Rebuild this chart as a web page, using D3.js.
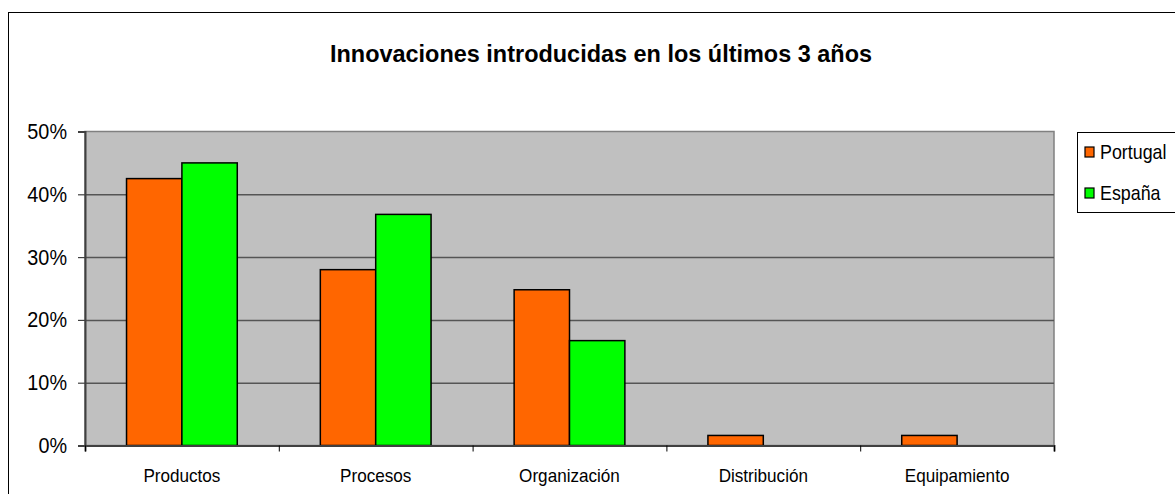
<!DOCTYPE html>
<meta charset="utf-8">
<style>
body { margin: 0; background: #fff; }
text { font-family: "Liberation Sans", Arial, sans-serif; fill: #000; }
.grid line { stroke: #555; stroke-width: 1.5px; }
.grid path { display: none; }
</style>
<body>
<script src="https://d3js.org/d3.v7.min.js"></script>
<script>

// data
var categories = ["Productos", "Procesos", "Organización", "Distribución", "Equipamiento"];
var series = ["Portugal", "España"];
var portugal = [0.425, 0.280, 0.248, 0.016, 0.016];
var espana = [0.450, 0.368, 0.167, 0, 0];
var yTicks = [0, 0.1, 0.2, 0.3, 0.4, 0.5];
var colors = ["#FF6600", "#00FF00"];
var title = "Innovaciones introducidas en los últimos 3 años";

var W = 1175, H = 494;
var plot = {left: 85, top: 131.5, right: 1054, bottom: 445.5};

var svg = d3.select("body").append("svg")
    .attr("width", W)
    .attr("height", H);

// squeeze text a bit, the original font is narrower
function condense(sel, k) {
  sel.each(function() {
    var len = this.getComputedTextLength();
    d3.select(this).attr("textLength", len * k).attr("lengthAdjust", "spacingAndGlyphs");
  });
}

// outer chart border
svg.append("rect")
    .attr("x", 8.5).attr("y", 12.5)
    .attr("width", 1200).attr("height", 520)
    .attr("fill", "#fff")
    .attr("stroke", "#000")
    .attr("stroke-width", 1);

// scales
var x0 = d3.scaleBand().domain(categories).range([plot.left, plot.right]);
var x1 = d3.scaleBand().domain(series).range([0, x0.bandwidth()]).paddingOuter(0.75);
var xEdge = d3.scaleLinear().domain([0, categories.length]).range([plot.left, plot.right]);
var y = d3.scaleLinear().domain([0, 0.5]).range([plot.bottom, plot.top]);

// plot area
svg.append("rect")
    .attr("x", plot.left).attr("y", plot.top)
    .attr("width", plot.right - plot.left)
    .attr("height", plot.bottom - plot.top)
    .attr("fill", "#C0C0C0")
    .attr("stroke", "#808080")
    .attr("stroke-width", 1.5);

// gridlines
svg.append("g")
    .attr("class", "grid")
    .attr("transform", "translate(" + plot.left + ",0)")
    .call(d3.axisLeft(y).tickValues([0.1, 0.2, 0.3, 0.4])
        .tickSize(-(plot.right - plot.left)).tickFormat(""));

// bars
var rows = categories.map(function(c, i) {
  return {cat: c, vals: [portugal[i], espana[i]]};
});

var groups = svg.selectAll(".cat")
    .data(rows)
  .enter().append("g")
    .attr("transform", function(d) { return "translate(" + x0(d.cat) + ",0)"; });

groups.selectAll("rect")
    .data(function(d) {
      return d.vals.map(function(v, j) { return {s: series[j], v: v, j: j}; })
        .filter(function(e) { return e.v > 0; });
    })
  .enter().append("rect")
    .attr("x", function(d) { return x1(d.s); })
    .attr("y", function(d) { return y(d.v); })
    .attr("width", x1.bandwidth())
    .attr("height", function(d) { return y(0) - y(d.v); })
    .attr("fill", function(d) { return colors[d.j]; })
    .attr("stroke", "#000")
    .attr("stroke-width", 1.5);

// y axis
var yAxis = svg.append("g")
    .attr("transform", "translate(" + plot.left + ",0)")
    .call(d3.axisLeft(y).tickValues(yTicks).tickSize(7).tickPadding(11)
        .tickFormat(d3.format(".0%")));
yAxis.select(".domain").attr("stroke", "#404040").attr("stroke-width", 2);
yAxis.selectAll(".tick line").attr("stroke", "#404040").attr("stroke-width", 1.2);
yAxis.selectAll("text")
    .attr("font-size", "22px")
    .attr("font-family", "Liberation Sans, Arial, sans-serif")
    .attr("fill", "#000")
    .call(condense, 0.9);

// x axis: tick marks at band edges, labels centred under bands
var xTicks = svg.append("g")
    .attr("transform", "translate(0," + plot.bottom + ")")
    .call(d3.axisBottom(xEdge).ticks(categories.length).tickSize(6).tickFormat(""));
xTicks.select(".domain").attr("stroke", "#404040").attr("stroke-width", 2);
xTicks.selectAll(".tick line").attr("stroke", "#000");

var xLabels = svg.append("g")
    .attr("transform", "translate(0," + plot.bottom + ")")
    .call(d3.axisBottom(x0).tickSize(0).tickPadding(23));
xLabels.select(".domain").remove();
xLabels.selectAll("text")
    .attr("font-size", "19px")
    .attr("font-family", "Liberation Sans, Arial, sans-serif")
    .attr("fill", "#000")
    .call(condense, 0.9);

// title
svg.append("text")
    .attr("x", 601)
    .attr("y", 62)
    .attr("text-anchor", "middle")
    .style("font-size", "24px")
    .style("font-weight", "bold")
    .attr("textLength", 542)
    .attr("lengthAdjust", "spacingAndGlyphs")
    .text(title);

// legend
var legend = svg.append("g").attr("transform", "translate(1077,132)");
legend.append("rect")
    .attr("x", 0.5).attr("y", 0.5)
    .attr("width", 120).attr("height", 80)
    .attr("fill", "#fff")
    .attr("stroke", "#000");

var items = legend.selectAll(".item")
    .data(series)
  .enter().append("g")
    .attr("transform", function(d, i) { return "translate(8," + (15 + i * 41) + ")"; });
items.append("rect")
    .attr("width", 9).attr("height", 10)
    .attr("fill", function(d, i) { return colors[i]; })
    .attr("stroke", "#000")
    .attr("stroke-width", 1.2);
items.append("text")
    .attr("x", 15)
    .attr("y", 12)
    .style("font-size", "21px")
    .text(function(d) { return d; })
    .call(condense, 0.85);

</script>
</body>
